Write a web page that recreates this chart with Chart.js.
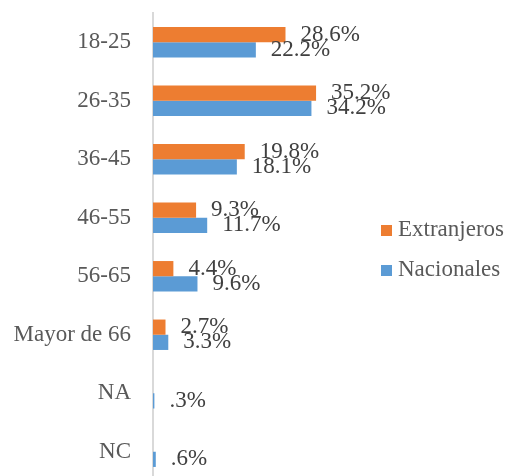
<!DOCTYPE html>
<html><head><meta charset="utf-8">
<script src="https://cdn.jsdelivr.net/npm/chart.js@4/dist/chart.umd.min.js"></script>
<style>html,body{margin:0;padding:0;background:#fff;overflow:hidden}#wrap{width:508px;height:481px;position:relative}</style>
</head><body><div id="wrap"><canvas id="c"></canvas></div>
<script>
const categories = ["18-25","26-35","36-45","46-55","56-65","Mayor de 66","NA","NC"];
const extranjeros = [28.6,35.2,19.8,9.3,4.4,2.7,null,null];
const nacionales = [22.2,34.2,18.1,11.7,9.6,3.3,0.3,0.6];
const seriesNames = ["Extranjeros","Nacionales"];
const seriesColors = ["#ED7D31","#5B9BD5"];

const SERIF = '"Liberation Serif", "Times New Roman", serif';
const fmt = v => { let s = v.toFixed(1); if (v < 1) s = s.replace(/^0/, ''); return s + '%'; };

const labelPlugin = {
  id: 'valLabels',
  afterDatasetsDraw(chart) {
    const ctx = chart.ctx;
    ctx.save();
    ctx.font = '23px ' + SERIF;
    ctx.fillStyle = '#404040';
    ctx.textBaseline = 'middle';
    ctx.textAlign = 'left';
    chart.data.datasets.forEach((ds, di) => {
      const meta = chart.getDatasetMeta(di);
      meta.data.forEach((el, i) => {
        const v = ds.data[i];
        if (v === null || v === undefined) return;
        ctx.fillText(fmt(v), el.x + 15, el.y);
      });
    });
    ctx.restore();
  }
};

const legendPlugin = {
  id: 'sideLegend',
  afterDraw(chart) {
    const ctx = chart.ctx;
    const ca = chart.chartArea;
    const cy = (ca.top + ca.bottom) / 2;
    ctx.save();
    ctx.font = '23px ' + SERIF;
    ctx.textBaseline = 'middle';
    ctx.textAlign = 'left';
    chart.data.datasets.forEach((ds, i) => {
      const y = cy + (i - 0.5) * 40 + 3;
      const x = ca.right + 1;
      ctx.fillStyle = ds.backgroundColor;
      ctx.fillRect(x, y - 5, 11, 11);
      ctx.fillStyle = '#595959';
      ctx.fillText(ds.label, x + 17, y);
    });
    ctx.restore();
  }
};

new Chart(document.getElementById('c'), {
  type: 'bar',
  data: {
    labels: categories,
    datasets: [
      { label: seriesNames[0], data: extranjeros, backgroundColor: seriesColors[0], categoryPercentage: 0.52, barPercentage: 1 },
      { label: seriesNames[1], data: nacionales, backgroundColor: seriesColors[1], categoryPercentage: 0.52, barPercentage: 1 }
    ]
  },
  options: {
    indexAxis: 'y',
    responsive: true,
    maintainAspectRatio: false,
    animation: false,
    layout: { padding: { top: 13, bottom: 0, left: 0, right: 128 } },
    plugins: {
      tooltip: { enabled: false },
      legend: { display: false }
    },
    scales: {
      x: { display: false, min: 0, max: 49 },
      y: {
        grid: { display: false, drawTicks: false },
        border: { color: '#d9d9d9', width: 2 },
        ticks: { color: '#595959', padding: 22, font: { family: SERIF, size: 23 } },
        afterFit(scale) { scale.width = 153; scale.paddingTop = 0; scale.paddingBottom = 0; }
      }
    }
  },
  plugins: [labelPlugin, legendPlugin]
});
</script></body></html>
